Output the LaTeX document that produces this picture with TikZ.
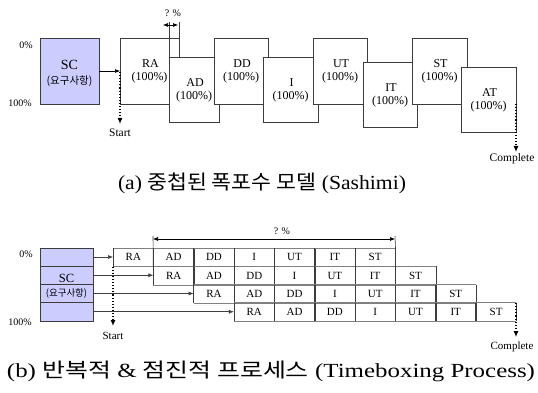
\documentclass[tikz,border=0pt]{standalone}
\usepackage{fontspec}
\usepackage{graphicx}
\setmainfont{Liberation Serif}
\newfontfamily\kr{Noto Sans CJK KR}
\usetikzlibrary{arrows.meta}
\definecolor{scfill}{RGB}{204,204,255}
\definecolor{lineg}{RGB}{60,60,60}
\tikzset{
  sashbox/.style={draw=lineg,fill=white,line width=0.7pt},
  boxtxt/.style={font=\fontsize{12}{14}\selectfont,inner sep=0pt},
  small/.style={font=\fontsize{10}{12}\selectfont,inner sep=0pt},
  marktxt/.style={font=\fontsize{11.5}{13}\selectfont,inner sep=0pt},
  cell/.style={minimum width=40.3pt,minimum height=18.25pt,inner sep=0pt,anchor=north west,font=\fontsize{11}{13}\selectfont},
  arr/.style={-{Latex[length=5pt,width=4pt]},line width=0.6pt},
  dotarr/.style={-{Latex[length=6pt,width=5pt]},line width=1.1pt,dotted},
  captxt/.style={font=\fontsize{20}{24}\selectfont,inner sep=0pt}
}
\begin{document}
\begin{tikzpicture}[x=1pt,y=-1pt]
\useasboundingbox (0,0) rectangle (538,393);
% ---------------- (a) ----------------
\draw[draw=lineg,fill=scfill,line width=0.7pt] (40,38) rectangle (99,104);
\node[font=\fontsize{14}{16}\selectfont,inner sep=0pt] (scA) at (69.5,65) {SC};
\node[font=\fontsize{10.5}{12}\selectfont\kr,inner sep=0pt] (scAk) at (69.5,81) {(요구사항)};
\coordinate (scAr) at (99,71);
\node[small] (p0a) at (26,45) {0\%};
\node[small] (p100a) at (20,103) {100\%};
% boxes, later ones on top
\foreach \n/\xa/\ya/\xb/\yb/\lab in {
  RA/120/38/179/104/RA, AD/169/57/219/122/AD, DD/214/38/268/104/DD,
  I/263/57/318/122/I, UT/313/38/367/104/UT, IT/363/62/417/127/IT,
  ST/412/38/467/104/ST, AT/461/67/516/132/AT}{
  \draw[sashbox] (\xa,\ya) rectangle (\xb,\yb);
  \coordinate (b\n) at ({(\xa+\xb)/2},{(\ya+\yb)/2});
  \node[boxtxt] (t\n) at ({(\xa+\xb)/2+1},{(\ya+\yb)/2-7}) {\lab};
  \node[boxtxt] (q\n) at ({(\xa+\xb)/2},{(\ya+\yb)/2+7}) {(100\%)};
}
\coordinate (raL) at (120,71);
\draw[arr] (scAr) -- (raL);
% ? % marker
\coordinate (mA1) at (169,22); \coordinate (mA2) at (169,57);
\coordinate (mB1) at (179,22); \coordinate (mB2) at (179,38);
\draw[lineg,line width=0.7pt] (mA1) -- (mA2) (mB1) -- (mB2);
\coordinate (mL) at (163,25); \coordinate (mR) at (178,25);
\draw[{Latex[length=5pt,width=4pt]}-{Latex[length=5pt,width=4pt]},line width=0.6pt] (mL) -- (mR);
\node[small] (pqa) at (173,13) {? \%};
% start / complete
\coordinate (stA1) at (120,72); \coordinate (stA2) at (120,124);
\draw[dotarr] (stA1) -- (stA2);
\node[marktxt] (startA) at (120,133) {Start};
\coordinate (cpA1) at (516,104); \coordinate (cpA2) at (516,152);
\draw[dotarr] (cpA1) -- (cpA2);
\node[marktxt] (compA) at (512,159) {Complete};
\node[captxt] (capA) at (262,183) {\resizebox{288pt}{\height}{(a) {\kr 중첩된 폭포수 모델} (Sashimi)}};
% ---------------- (b) ----------------
\draw[draw=lineg,fill=scfill,line width=0.7pt] (40,248) rectangle (93,321);
\draw[lineg,line width=0.6pt] (40,266.25) -- (93,266.25) (40,284.5) -- (93,284.5) (40,302.75) -- (93,302.75);
\node[font=\fontsize{12.5}{14}\selectfont,inner sep=0pt] (scB) at (66.5,278) {SC};
\node[font=\fontsize{9.5}{11}\selectfont\kr,inner sep=0pt] (scBk) at (66.5,293) {(요구사항)};
\node[small] (p0b) at (26,254) {0\%};
\node[small] (p100b) at (20,322) {100\%};
\foreach \r in {0,1,2,3}{
  \foreach \lab [count=\c from 0] in {RA,AD,DD,I,UT,IT,ST}{
    \node[cell] (c\r\c) at ({113+(\r+\c)*40.3},{248+\r*18.25}) {\lab};
    \draw[gray,line width=0.6pt] (c\r\c.north west) -- (c\r\c.north east) (c\r\c.south west) -- (c\r\c.south east);
    \draw[lineg,line width=0.6pt] (c\r\c.north west) -- (c\r\c.south west) (c\r\c.north east) -- (c\r\c.south east);
  }
  \coordinate (sb\r) at (93,{257+\r*18.25});
  \draw[arr,black!75] (sb\r) -- (sb\r -| c\r0.west);
}
% ? % span arrow
\coordinate (qL) at (153,236); \coordinate (qR) at (395,236);
\draw[lineg,line width=0.6pt] (qL) -- (c10.north west) (qR) -- (c06.north east);
\coordinate (qaL) at (153,239); \coordinate (qaR) at (395,239);
\draw[{Latex[length=5pt,width=4pt]}-{Latex[length=5pt,width=4pt]},line width=0.6pt] (qaL) -- (qaR);
\node[small] (pqb) at (282,231) {? \%};
% start / complete
\coordinate (stB1) at (113,266.5); \coordinate (stB2) at (113,326);
\draw[dotarr] (stB1) -- (stB2);
\node[font=\fontsize{11}{13}\selectfont,inner sep=0pt] (startB) at (113,336) {Start};
\coordinate (cpB1) at (516,303); \coordinate (cpB2) at (516,337);
\draw[dotarr] (cpB1) -- (cpB2);
\node[font=\fontsize{11}{13}\selectfont,inner sep=0pt] (compB) at (512,347) {Complete};
\node[captxt] (capB) at (271,371) {\resizebox{528pt}{\height}{(b) {\kr 반복적} \& {\kr 점진적 프로세스} (Timeboxing Process)}};
\end{tikzpicture}
\end{document}
